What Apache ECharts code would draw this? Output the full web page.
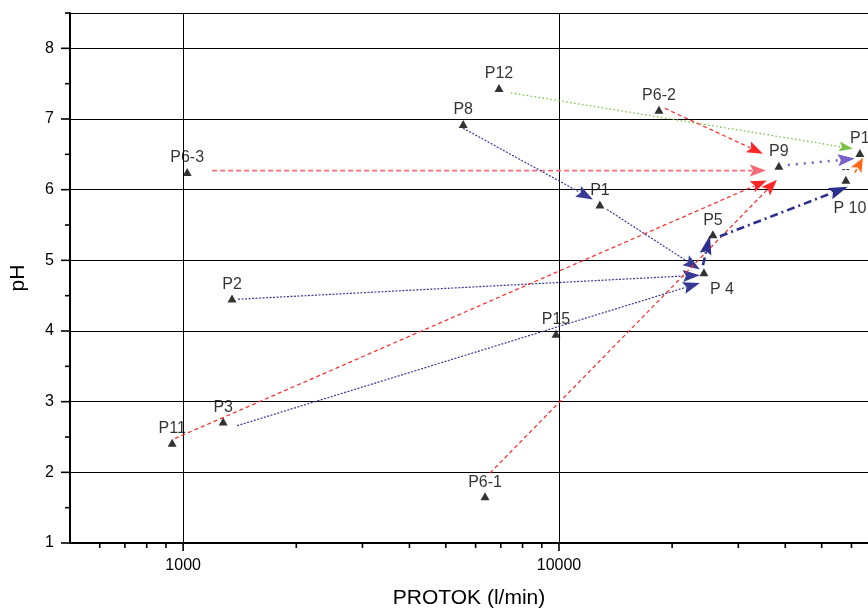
<!DOCTYPE html>
<html>
<head>
<meta charset="utf-8">
<script src="https://cdn.jsdelivr.net/npm/echarts@6/dist/echarts.min.js"></script>
<style>
  html, body { margin: 0; padding: 0; background: #ffffff; }
  #chart { width: 868px; height: 614px; }
</style>
</head>
<body>
<div id="chart"></div>
<script>
// Sampling points: flow (l/min) against pH
const pointNames = ['P12', 'P8', 'P6-2', 'P6-3', 'P1', 'P9', 'P1', 'P 10', 'P5', 'P 4', 'P2', 'P15', 'P3', 'P11', 'P6-1'];
const flowValues = [6925, 5560, 18450, 1025, 12850, 38460, 63180, 57980, 25680, 24300, 1349, 9820, 1278, 935, 6357];
const phValues   = [7.44, 6.93, 7.13, 6.25, 5.79, 6.34, 6.52, 6.14, 5.37, 4.83, 4.46, 3.96, 2.72, 2.42, 1.66];

// Transitions between points (start -> end), with the line kind of each
const arrowStartFlow = [7447, 19140, 1194, 5556, 13420, 1400, 1392, 952, 6554, 24150, 26800, 40640, 61250];
const arrowStartPh   = [7.37, 7.15, 6.27, 6.87, 5.72, 4.45, 2.66, 2.48, 1.99, 4.93, 5.34, 6.35, 6.24];
const arrowEndFlow   = [60530, 34880, 35530, 12310, 23710, 23710, 23710, 35730, 38010, 25210, 58700, 61250, 64360];
const arrowEndPh     = [6.58, 6.51, 6.27, 5.86, 4.87, 4.79, 4.68, 6.13, 6.14, 5.35, 6.04, 6.44, 6.45];
const arrowKind      = ['green', 'red', 'salmon', 'blue', 'blue', 'blue', 'blue', 'red', 'red', 'navy', 'navy', 'purple', 'orange'];

// Axis ranges and ticks
const xMin = 500, xMax = 66400;
const yMin = 1, yMax = 8.5;
const xMajorTicks = [1000, 10000];
const xMinorTicks = [600, 700, 800, 900, 2000, 3000, 4000, 5000, 6000, 7000, 8000, 9000, 20000, 30000, 40000, 50000, 60000];
const yMajorTicks = [1, 2, 3, 4, 5, 6, 7, 8];
const yMinorTicks = [1.5, 2.5, 3.5, 4.5, 5.5, 6.5, 7.5, 8.5];

const FONT = '"Liberation Sans", Arial, sans-serif';

// Appearance of each line kind
const kindStyle = {
  green:  { color: '#78c044', width: 1.3, dash: [1.5, 2.5], headLen: 14, headHalf: 5 },
  red:    { color: '#ff2626', width: 1.2, dash: [4, 3],     headLen: 16, headHalf: 6 },
  salmon: { color: '#f26d76', width: 1.9, dash: [5, 3],     headLen: 16, headHalf: 6 },
  blue:   { color: '#363a94', width: 1.2, dash: [2, 1.5],   headLen: 17, headHalf: 6 },
  navy:   { color: '#2b2f8e', width: 2.6, dash: [8, 4, 2, 4], headLen: 19, headHalf: 6 },
  purple: { color: '#7860c8', width: 2.5, dash: [2, 6],     headLen: 17, headHalf: 6 },
  orange: { color: '#ff6a1a', width: 1.7, dash: [4, 3],     headLen: 14, headHalf: 6 }
};

// Label placement tweaks for a few points
const labelPlacement = {
  'P 4':  { position: 'bottom', distance: 5, offset: [18, 0] },
  'P 10': { position: 'bottom', distance: 17, offset: [4, 0] }
};

const arrowData = arrowKind.map((k, i) => [arrowStartFlow[i], arrowStartPh[i], arrowEndFlow[i], arrowEndPh[i], i]);

function renderArrow(params, api) {
  const i = api.value(4);
  const st = kindStyle[arrowKind[i]];
  const p0 = api.coord([api.value(0), api.value(1)]);
  const p1 = api.coord([api.value(2), api.value(3)]);
  const dx = p1[0] - p0[0], dy = p1[1] - p0[1];
  const len = Math.sqrt(dx * dx + dy * dy) || 1;
  const ux = dx / len, uy = dy / len;
  const bx = p1[0] - ux * st.headLen, by = p1[1] - uy * st.headLen;
  const nx = -uy, ny = ux;
  return {
    type: 'group',
    children: [
      {
        type: 'line',
        shape: { x1: p0[0], y1: p0[1], x2: bx + ux * 2, y2: by + uy * 2 },
        style: { stroke: st.color, lineWidth: st.width, lineDash: st.dash, fill: null }
      },
      {
        type: 'polygon',
        shape: { points: [[p1[0], p1[1]], [bx + nx * st.headHalf, by + ny * st.headHalf], [bx + ux * 3, by + uy * 3], [bx - nx * st.headHalf, by - ny * st.headHalf]] },
        style: { fill: st.color, stroke: null }
      }
    ]
  };
}

function xTick(len) {
  return function (params, api) {
    const p = api.coord([api.value(0), api.value(1)]);
    return { type: 'line', shape: { x1: p[0], y1: p[1], x2: p[0], y2: p[1] + len }, style: { stroke: '#000', lineWidth: 1.6 } };
  };
}
function yTick(len) {
  return function (params, api) {
    const p = api.coord([api.value(0), api.value(1)]);
    return { type: 'line', shape: { x1: p[0], y1: p[1], x2: p[0] - len, y2: p[1] }, style: { stroke: '#000', lineWidth: 1.6 } };
  };
}

const chart = echarts.init(document.getElementById('chart'), null, { renderer: 'canvas' });

const option = {
  animation: false,
  backgroundColor: '#ffffff',
  grid: { left: 70, right: 0, top: 13, bottom: 69, containLabel: false },
  xAxis: {
    type: 'log',
    logBase: 10,
    min: xMin,
    max: xMax,
    name: 'PROTOK (l/min)',
    nameLocation: 'middle',
    nameGap: 45,
    nameTextStyle: { fontFamily: FONT, fontSize: 21, color: '#000' },
    axisLine: { show: true, onZero: false, lineStyle: { color: '#000', width: 2 } },
    axisTick: { show: false },
    axisLabel: {
      margin: 15,
      fontFamily: FONT, fontSize: 16, color: '#000',
      showMinLabel: false, showMaxLabel: false,
      formatter: function (v) {
        for (const t of xMajorTicks) { if (Math.abs(v - t) / t < 1e-6) return String(t); }
        return '';
      }
    },
    splitLine: { show: true, lineStyle: { color: '#000', width: 1 } },
    minorTick: { show: false },
    minorSplitLine: { show: false }
  },
  yAxis: {
    type: 'value',
    min: yMin,
    max: yMax,
    interval: 1,
    name: 'pH',
    nameLocation: 'middle',
    nameGap: 41,
    nameTextStyle: { fontFamily: FONT, fontSize: 21, color: '#000' },
    axisLine: { show: true, onZero: false, lineStyle: { color: '#000', width: 2 } },
    axisTick: { show: false },
    axisLabel: {
      margin: 16,
      fontFamily: FONT, fontSize: 16, color: '#000',
      formatter: function (v) { return Number.isInteger(v) ? String(v) : ''; }
    },
    splitLine: { show: true, lineStyle: { color: '#000', width: 1 } }
  },
  series: [
    { type: 'custom', clip: false, silent: true, z: 3, data: xMajorTicks.map(v => [v, yMin]), renderItem: xTick(8) },
    { type: 'custom', clip: false, silent: true, z: 3, data: xMinorTicks.map(v => [v, yMin]), renderItem: xTick(5) },
    { type: 'custom', clip: false, silent: true, z: 3, data: yMajorTicks.map(v => [xMin, v]), renderItem: yTick(9) },
    { type: 'custom', clip: false, silent: true, z: 3, data: yMinorTicks.map(v => [xMin, v]), renderItem: yTick(5) },
    { type: 'custom', clip: false, silent: true, z: 4, data: arrowData, renderItem: renderArrow },
    {
      type: 'scatter',
      z: 6,
      symbol: 'triangle',
      symbolSize: [9, 8],
      itemStyle: { color: '#000' },
      label: {
        show: true, position: 'top', distance: 2,
        formatter: '{b}',
        fontFamily: FONT, fontSize: 16, color: '#000'
      },
      data: pointNames.map((n, i) => {
        const item = { name: n, value: [flowValues[i], phValues[i]] };
        if (labelPlacement[n]) item.label = labelPlacement[n];
        return item;
      })
    },
    {
      type: 'scatter',
      z: 6,
      symbolSize: 0,
      label: { show: true, position: 'top', distance: 4, formatter: '--', fontFamily: FONT, fontSize: 12, color: '#000' },
      data: [[flowValues[7], phValues[7]]]
    }
  ]
};

chart.setOption(option);
</script>
</body>
</html>
